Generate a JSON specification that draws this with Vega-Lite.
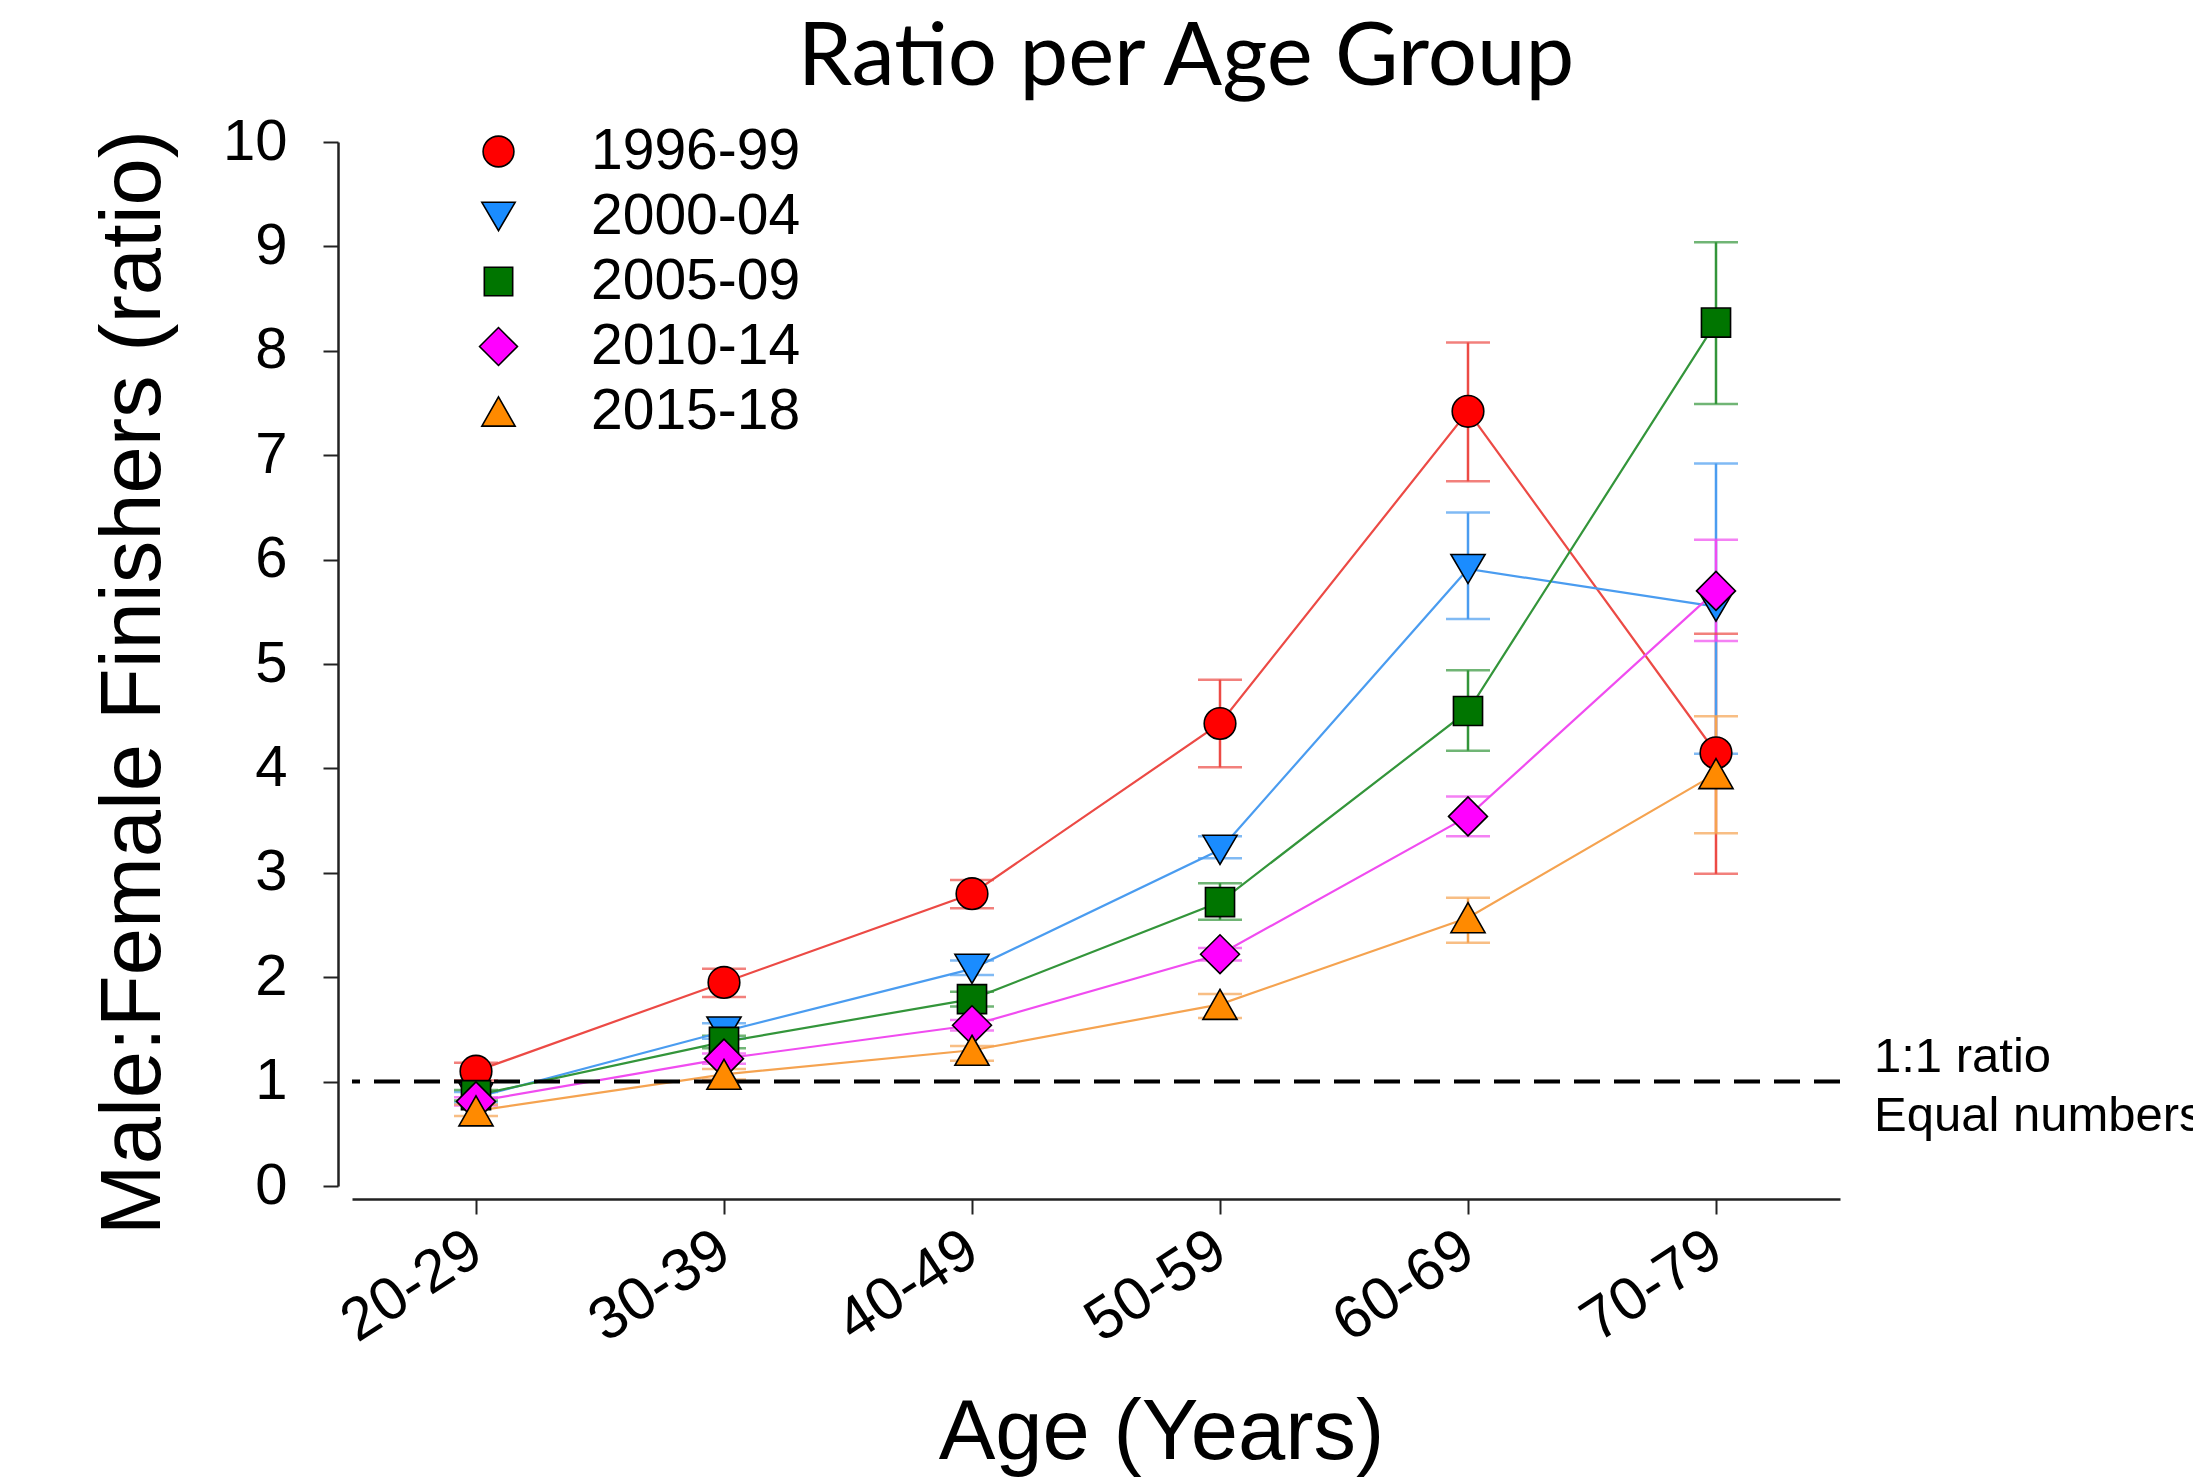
{
  "$schema": "https://vega.github.io/schema/vega-lite/v6.json",
  "width": 1488,
  "height": 1044,
  "autosize": {"type": "none"},
  "padding": {"left": 352, "top": 142, "right": 353, "bottom": 296},
  "background": "white",
  "config": {
    "view": {"stroke": null},
    "font": "Liberation Sans",
    "legend": {"labelFont": "Liberation Sans", "labelFontSize": 57, "labelColor": "black", "labelLimit": 600, "symbolSize": 950, "labelOffset": 64, "rowPadding": 7, "symbolStrokeColor": "black", "symbolStrokeWidth": 1.6, "symbolOpacity": 1}
  },
  "title": {"text": "Ratio per Age Group", "font": "Lato", "fontSize": 87, "fontWeight": "normal", "color": "black", "anchor": "middle", "frame": "group", "dx": 90, "offset": 10},
  "data": {"values": [
    {"series": "1996-99", "age": "20-29", "val": 1.10, "lo": 1.01, "hi": 1.18},
    {"series": "1996-99", "age": "30-39", "val": 1.95, "lo": 1.81, "hi": 2.08},
    {"series": "1996-99", "age": "40-49", "val": 2.80, "lo": 2.66, "hi": 2.93},
    {"series": "1996-99", "age": "50-59", "val": 4.43, "lo": 4.01, "hi": 4.85},
    {"series": "1996-99", "age": "60-69", "val": 7.42, "lo": 6.75, "hi": 8.08},
    {"series": "1996-99", "age": "70-79", "val": 4.15, "lo": 2.99, "hi": 5.29},
    {"series": "2000-04", "age": "20-29", "val": 0.85, "lo": 0.80, "hi": 0.90},
    {"series": "2000-04", "age": "30-39", "val": 1.48, "lo": 1.41, "hi": 1.56},
    {"series": "2000-04", "age": "40-49", "val": 2.08, "lo": 2.02, "hi": 2.16},
    {"series": "2000-04", "age": "50-59", "val": 3.22, "lo": 3.14, "hi": 3.35},
    {"series": "2000-04", "age": "60-69", "val": 5.91, "lo": 5.43, "hi": 6.45},
    {"series": "2000-04", "age": "70-79", "val": 5.55, "lo": 4.14, "hi": 6.92},
    {"series": "2005-09", "age": "20-29", "val": 0.87, "lo": 0.82, "hi": 0.92},
    {"series": "2005-09", "age": "30-39", "val": 1.38, "lo": 1.32, "hi": 1.44},
    {"series": "2005-09", "age": "40-49", "val": 1.79, "lo": 1.72, "hi": 1.86},
    {"series": "2005-09", "age": "50-59", "val": 2.72, "lo": 2.55, "hi": 2.90},
    {"series": "2005-09", "age": "60-69", "val": 4.55, "lo": 4.17, "hi": 4.94},
    {"series": "2005-09", "age": "70-79", "val": 8.27, "lo": 7.49, "hi": 9.04},
    {"series": "2010-14", "age": "20-29", "val": 0.81, "lo": 0.77, "hi": 0.85},
    {"series": "2010-14", "age": "30-39", "val": 1.22, "lo": 1.17, "hi": 1.27},
    {"series": "2010-14", "age": "40-49", "val": 1.54, "lo": 1.49, "hi": 1.59},
    {"series": "2010-14", "age": "50-59", "val": 2.22, "lo": 2.16, "hi": 2.28},
    {"series": "2010-14", "age": "60-69", "val": 3.54, "lo": 3.35, "hi": 3.73},
    {"series": "2010-14", "age": "70-79", "val": 5.70, "lo": 5.22, "hi": 6.19},
    {"series": "2015-18", "age": "20-29", "val": 0.72, "lo": 0.67, "hi": 0.78},
    {"series": "2015-18", "age": "30-39", "val": 1.07, "lo": 1.02, "hi": 1.12},
    {"series": "2015-18", "age": "40-49", "val": 1.30, "lo": 1.20, "hi": 1.34},
    {"series": "2015-18", "age": "50-59", "val": 1.74, "lo": 1.61, "hi": 1.84},
    {"series": "2015-18", "age": "60-69", "val": 2.57, "lo": 2.33, "hi": 2.76},
    {"series": "2015-18", "age": "70-79", "val": 3.95, "lo": 3.38, "hi": 4.50}
  ]},
  "layer": [
    {
      "mark": {"type": "rule", "strokeWidth": 2.5},
      "encoding": {
        "x": {"field": "age", "type": "ordinal", "scale": {"type": "point", "padding": 0.5},
              "axis": {"title": "Age (Years)", "titleFont": "Liberation Sans", "titleFontSize": 85, "titleFontWeight": "normal", "titleColor": "black",
                       "titleX": 809, "titleY": 233, "titleAlign": "center", "titleBaseline": "middle", "titleAngle": 0,
                       "labelAngle": -33, "labelAlign": "right", "labelBaseline": "middle", "labelFontSize": 60, "labelColor": "black", "labelPadding": 30,
                       "offset": 13, "domainColor": "#222", "domainWidth": 2.5, "tickColor": "#222", "tickWidth": 2, "tickSize": 15, "grid": false}},
        "y": {"field": "lo", "type": "quantitative", "scale": {"domain": [0, 10], "nice": false, "zero": true},
              "axis": {"title": "Male:Female Finishers (ratio)", "titleFont": "Liberation Sans", "titleFontSize": 85, "titleFontWeight": "normal", "titleColor": "black",
                       "titleX": -205, "titleY": 540, "titleAngle": -90, "titleAlign": "center", "titleBaseline": "middle",
                       "values": [0,1,2,3,4,5,6,7,8,9,10], "format": "d", "labelFontSize": 58, "labelColor": "black", "labelPadding": 36,
                       "offset": 14, "domainColor": "#222", "domainWidth": 2.5, "tickColor": "#222", "tickWidth": 2, "tickSize": 15, "grid": false}},
        "y2": {"field": "hi"},
        "stroke": {"field": "series", "type": "nominal",
                   "scale": {"domain": ["2015-18", "2010-14", "2005-09", "2000-04", "1996-99"], "range": ["#f5a350", "#f04cf0", "#33953a", "#4a9cf0", "#ec4a45"]},
                   "legend": null}
      }
    },
    {
      "mark": {"type": "tick", "orient": "horizontal", "size": 44, "thickness": 2.5},
      "encoding": {
        "x": {"field": "age", "type": "ordinal"},
        "y": {"field": "lo", "type": "quantitative"},
        "color": {"field": "series", "type": "nominal",
                  "scale": {"domain": ["2000-04", "2005-09", "2010-14", "2015-18", "1996-99"], "range": ["#4a9cf0", "#33953a", "#f04cf0", "#f5a350", "#ec4a45"]},
                  "legend": null}
      }
    },
    {
      "mark": {"type": "tick", "orient": "horizontal", "size": 44, "thickness": 2.5},
      "encoding": {
        "x": {"field": "age", "type": "ordinal"},
        "y": {"field": "hi", "type": "quantitative"},
        "color": {"field": "series", "type": "nominal", "legend": null}
      }
    },
    {
      "mark": {"type": "line", "strokeWidth": 2.2},
      "encoding": {
        "x": {"field": "age", "type": "ordinal"},
        "y": {"field": "val", "type": "quantitative"},
        "stroke": {"field": "series", "type": "nominal", "legend": null},
        "detail": {"field": "series"}
      }
    },
    {
      "transform": [{"filter": "datum.series == '1996-99' && datum.age == '20-29'"}],
      "mark": {"type": "rule", "color": "black", "strokeWidth": 4, "strokeDash": [26, 14]},
      "encoding": {"y": {"datum": 1}}
    },
    {
      "mark": {"type": "point", "filled": true, "size": 1000, "stroke": "black", "strokeWidth": 1.6, "opacity": 1},
      "encoding": {
        "x": {"field": "age", "type": "ordinal"},
        "y": {"field": "val", "type": "quantitative"},
        "fill": {"field": "series", "type": "nominal",
                 "scale": {"domain": ["1996-99", "2000-04", "2005-09", "2010-14", "2015-18"], "range": ["#ff0000", "#1a8cff", "#007500", "#ff00ff", "#ff8a00"]},
                 "legend": {"orient": "none", "legendX": 118, "legendY": -19, "title": null,
                            "encode": {"symbols": {"update": {"stroke": {"value": "black"}, "strokeWidth": {"value": 1.6}}}}}},
        "shape": {"field": "series", "type": "nominal",
                  "scale": {"domain": ["1996-99", "2000-04", "2005-09", "2010-14", "2015-18"],
                            "range": ["circle", "M-1.08,-0.92L1.08,-0.92L0,0.92Z", "M-0.92,-0.92L0.92,-0.92L0.92,0.92L-0.92,0.92Z", "M-1.23,0L0,-1.23L1.23,0L0,1.23Z", "M0,-0.95L1.08,0.95L-1.08,0.95Z"]},
                  "legend": {"orient": "none", "legendX": 118, "legendY": -19, "title": null,
                            "encode": {"symbols": {"update": {"stroke": {"value": "black"}, "strokeWidth": {"value": 1.6}}}}}}
      }
    },
    {
      "transform": [{"filter": "datum.series == '1996-99' && datum.age == '20-29'"}],
      "mark": {"type": "text", "align": "left", "baseline": "middle", "font": "Liberation Sans", "fontSize": 49, "lineHeight": 59, "color": "black", "dx": 158, "dy": -25},
      "encoding": {
        "x": {"datum": "70-79"},
        "y": {"datum": 1},
        "text": {"value": ["1:1 ratio", "Equal numbers"]}
      }
    }
  ]
}
